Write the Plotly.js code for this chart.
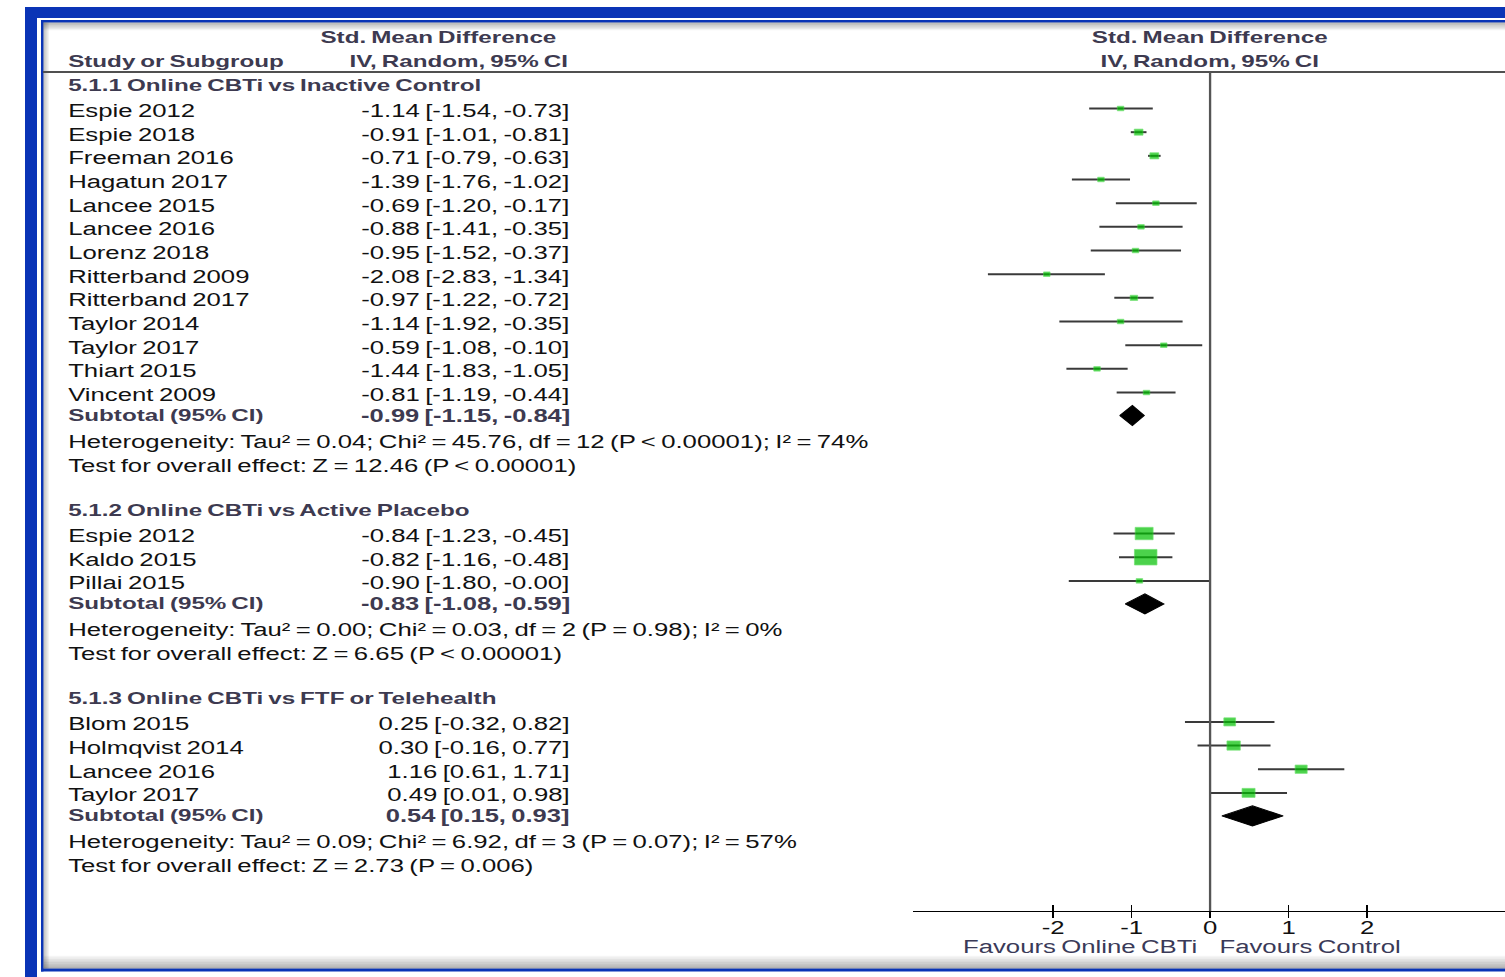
<!DOCTYPE html>
<html>
<head>
<meta charset="utf-8">
<script src="https://cdn.plot.ly/plotly-3.0.1.min.js"></script>
<style>
  html, body { margin:0; padding:0; background:#ffffff; overflow:hidden; width:1505px; height:977px; }
  #wrap { position:relative; width:1505px; height:977px; overflow:hidden; background:#fff; }
  #chart { position:absolute; left:0; top:0; transform-origin:0 0; }
  text.annotation-text { word-spacing:-1.2px; }
</style>
</head>
<body>
<div id="wrap"><div id="chart"></div></div>
<script>
// ---------------- data ----------------
const groupTitles = [
  "5.1.1 Online CBTi vs Inactive Control",
  "5.1.2 Online CBTi vs Active Placebo",
  "5.1.3 Online CBTi vs FTF or Telehealth"
];

const studiesA = ["Espie 2012","Espie 2018","Freeman 2016","Hagatun 2017","Lancee 2015","Lancee 2016","Lorenz 2018","Ritterband 2009","Ritterband 2017","Taylor 2014","Taylor 2017","Thiart 2015","Vincent 2009"];
const smdA  = [-1.14,-0.91,-0.71,-1.39,-0.69,-0.88,-0.95,-2.08,-0.97,-1.14,-0.59,-1.44,-0.81];
const lowA  = [-1.54,-1.01,-0.79,-1.76,-1.20,-1.41,-1.52,-2.83,-1.22,-1.92,-1.08,-1.83,-1.19];
const highA = [-0.73,-0.81,-0.63,-1.02,-0.17,-0.35,-0.37,-1.34,-0.72,-0.35,-0.10,-1.05,-0.44];

const studiesB = ["Espie 2012","Kaldo 2015","Pillai 2015"];
const smdB  = [-0.84,-0.82,-0.90];
const lowB  = [-1.23,-1.16,-1.80];
const highB = [-0.45,-0.48,-0.00];

const studiesC = ["Blom 2015","Holmqvist 2014","Lancee 2016","Taylor 2017"];
const smdC  = [0.25,0.30,1.16,0.49];
const lowC  = [-0.32,-0.16,0.61,0.01];
const highC = [0.82,0.77,1.71,0.98];

const subtotalSmd  = [-0.99,-0.83,0.54];
const subtotalLow  = [-1.15,-1.08,0.15];
const subtotalHigh = [-0.84,-0.59,0.93];
const tau2   = [0.04,0.00,0.09];
const chi2   = ["45.76","0.03","6.92"];
const dfs    = [12,2,3];
const pHet   = ["P < 0.00001","P = 0.98","P = 0.07"];
const i2     = ["74%","0%","57%"];
const zVals  = ["12.46","6.65","2.73"];
const pZ     = ["P < 0.00001","P < 0.00001","P = 0.006"];

const headerStudy = "Study or Subgroup";
const headerEffect = "Std. Mean Difference";
const headerMethod = "IV, Random, 95% CI";
const tickVals = [-2,-1,0,1,2];
const tickLabels = ["-2","-1","0","1","2"];
const favourLabels = ["Favours Online CBTi","Favours Control"];

// ---------------- geometry ----------------
const W = 1505, H = 977;
const S = 1.45;                // horizontal stretch of the original picture
const W0 = W / S;
const ZERO_PX = 1210, UNIT_PX = 78.5;
const AXIS_LEFT_PX = 913, AXIS_Y = 911, HEAD_LINE_Y = 72;
const FONT = "Liberation Sans, Arial, Helvetica, sans-serif";
const REG = 17.75, BOLD = 16.7, BOLD_NUM = 17.6;
const cText = "#111111", cHead = "#3d3a50";
const ciColor = "#3a3a3a", boxColor = "#00c000";
const blue = "#0a34b6";

const groups = [
  {names:studiesA, est:smdA, lo:lowA, hi:highA},
  {names:studiesB, est:smdB, lo:lowB, hi:highB},
  {names:studiesC, est:smdC, lo:lowC, hi:highC}
];

const fmt = v => ((v < 0 || Object.is(v, -0)) ? "-" : "") + Math.abs(v).toFixed(2);
const ciText = (e, l, h) => fmt(e) + " [" + fmt(l) + ", " + fmt(h) + "]";
const esc = s => s.replace(/</g, "&lt;");

// row layout (pixel rows, y axis is in pixels)
const STEP = 23.67;
let cur = 85;
const rows = [];
groups.forEach((g, gi) => {
  const r = {header: cur, studies: []};
  cur += 26;
  g.names.forEach((n, i) => { r.studies.push(cur + i * STEP); });
  cur = r.studies[r.studies.length - 1] + 20.5; r.subtotal = cur;
  cur += 26; r.het = cur;
  cur += 24; r.test = cur;
  cur += 44.5;
  rows.push(r);
});

// ---------------- annotations ----------------
const annotations = [];
function ann(px, y, text, o) {
  o = o || {};
  annotations.push({
    xref:"paper", yref:"y", x: px / W, y: y, text: text, showarrow:false,
    xanchor: o.anchor || "left", align: o.anchor || "left", yanchor:"middle",
    borderpad:0, borderwidth:0,
    font:{family:FONT, size: o.size || (o.bold ? BOLD : REG), color: o.color || (o.bold ? cHead : cText), weight: o.bold ? 700 : 400}
  });
}
const LEFT = 68, NUM_RIGHT = 570;
ann(438.5, 37, headerEffect, {anchor:"center", bold:true});
ann(459, 61, headerMethod, {anchor:"center", bold:true});
ann(LEFT, 61, headerStudy, {bold:true});
ann(ZERO_PX, 37, headerEffect, {anchor:"center", bold:true});
ann(ZERO_PX, 61, headerMethod, {anchor:"center", bold:true});

groups.forEach((g, gi) => {
  const r = rows[gi];
  ann(LEFT, r.header, groupTitles[gi], {bold:true});
  g.names.forEach((n, i) => {
    ann(LEFT, r.studies[i], n);
    ann(NUM_RIGHT, r.studies[i], ciText(g.est[i], g.lo[i], g.hi[i]), {anchor:"right"});
  });
  ann(LEFT, r.subtotal, "Subtotal (95% CI)", {bold:true});
  ann(NUM_RIGHT, r.subtotal, ciText(subtotalSmd[gi], subtotalLow[gi], subtotalHigh[gi]), {anchor:"right", bold:true, size:BOLD_NUM});
  ann(LEFT, r.het, esc("Heterogeneity: Tau² = " + tau2[gi].toFixed(2) + "; Chi² = " + chi2[gi] + ", df = " + dfs[gi] + " (" + pHet[gi] + "); I² = " + i2[gi]));
  ann(LEFT, r.test, esc("Test for overall effect: Z = " + zVals[gi] + " (" + pZ[gi] + ")"));
});
ann(1197, 947, favourLabels[0], {anchor:"right", color:"#3a3a58"});
ann(1220, 947, favourLabels[1], {color:"#3a3a58"});

// ---------------- traces ----------------
const traces = [];
const MARK_OFF = -2.5;
groups.forEach((g, gi) => {
  const r = rows[gi];
  // random-effects weights from the CIs and Tau² -> box size
  const w = g.lo.map((l, i) => { const se = (g.hi[i] - l) / 3.92; return 1 / (se * se + tau2[gi]); });
  const tot = w.reduce((a, b) => a + b, 0);
  const sizes = w.map(v => Math.max(4.5, 2.4 + 0.25 * 100 * v / tot));
  const lx = [], ly = [];
  g.lo.forEach((l, i) => { lx.push(l, g.hi[i], null); const y = r.studies[i] + MARK_OFF; ly.push(y, y, null); });
  traces.push({type:"scatter", mode:"lines", x:lx, y:ly, line:{color:ciColor, width:2}, hoverinfo:"skip", cliponaxis:false});
  traces.push({type:"scatter", mode:"markers", x:g.est, y:r.studies.map(y => y + MARK_OFF),
    marker:{symbol:"square", size:sizes, color:boxColor, line:{width:0.6, color:"#3ad63a"}}, hoverinfo:"skip", cliponaxis:false});
  const ys = r.subtotal, hh = 10;
  traces.push({type:"scatter", mode:"lines", fill:"toself", fillcolor:"#000",
    x:[subtotalLow[gi], subtotalSmd[gi], subtotalHigh[gi], subtotalSmd[gi], subtotalLow[gi]],
    y:[ys, ys - hh, ys, ys + hh, ys], line:{color:"#000", width:1}, hoverinfo:"skip", cliponaxis:false});
});
traces.push({type:"scatter", mode:"markers", x:[], y:[], xaxis:"x2", yaxis:"y", hoverinfo:"skip"});

// ---------------- shapes ----------------
const shapes = [];
function rect(x0, y0, x1, y1, color, op) {
  shapes.push({type:"rect", xref:"paper", yref:"paper", x0:x0 / W, x1:x1 / W, y0:1 - y0 / H, y1:1 - y1 / H,
    fillcolor:color, opacity: op === undefined ? 1 : op, line:{width:0}, layer:"below"});
}
// outer thick blue frame
rect(25, 7, W, 18, blue);
rect(25, 7, 37, H, blue);
// inner thin blue frame
rect(41, 20, W, 22.5, blue);
rect(41, 20, 43.5, 971.5, blue);
rect(41, 968.5, W, 971.5, blue);
// inner shadows
for (let i = 0; i < 6; i++) rect(43.5, 22.5 + i * 1.3, W, 23.8 + i * 1.3, "#000", 0.28 * (1 - i / 6));
for (let i = 0; i < 5; i++) rect(43.5 + i * 1.1, 22.5, 44.6 + i * 1.1, 968.5, "#000", 0.25 * (1 - i / 5));
for (let i = 0; i < 8; i++) rect(43.5, 968.5 - (i + 1) * 1.6, W, 968.5 - i * 1.6, "#000", 0.3 * (1 - i / 8));
// header rule
shapes.push({type:"line", xref:"paper", yref:"y", x0:43 / W, x1:1, y0:HEAD_LINE_Y, y1:HEAD_LINE_Y, line:{color:"#505050", width:2}});
// line of no effect
shapes.push({type:"line", xref:"x", yref:"y", x0:0, x1:0, y0:HEAD_LINE_Y, y1:AXIS_Y, line:{color:"#555555", width:1.6}});

const xr = [(AXIS_LEFT_PX - ZERO_PX) / UNIT_PX, (W - ZERO_PX) / UNIT_PX];
const axPos = 1 - AXIS_Y / H;

const layout = {
  width: W0, height: H, margin:{l:0, r:0, t:0, b:0, pad:0},
  paper_bgcolor:"#ffffff", plot_bgcolor:"rgba(0,0,0,0)", showlegend:false,
  xaxis:{domain:[AXIS_LEFT_PX / W, 1], range:xr, anchor:"free", position:axPos,
    showline:true, linecolor:"#000", linewidth:1.4, ticks:"inside", ticklen:6, tickwidth:1.1, tickcolor:"#000",
    tickvals:tickVals, ticktext:tickLabels, tickfont:{family:FONT, size:REG, color:"#111"},
    showgrid:false, zeroline:false, fixedrange:true},
  xaxis2:{domain:[AXIS_LEFT_PX / W, 1], range:xr, overlaying:"x", anchor:"free", position:axPos,
    showline:false, ticks:"outside", ticklen:6, tickwidth:1.1, tickcolor:"#000", tickvals:tickVals,
    showticklabels:false, showgrid:false, zeroline:false, fixedrange:true},
  yaxis:{domain:[0, 1], range:[H, 0], visible:false, showgrid:false, zeroline:false, fixedrange:true},
  annotations: annotations,
  shapes: shapes
};

const el = document.getElementById("chart");
el.style.transform = "scaleX(" + S + ")";
Plotly.newPlot(el, traces, layout, {staticPlot:true, displayModeBar:false});
</script>
</body>
</html>
